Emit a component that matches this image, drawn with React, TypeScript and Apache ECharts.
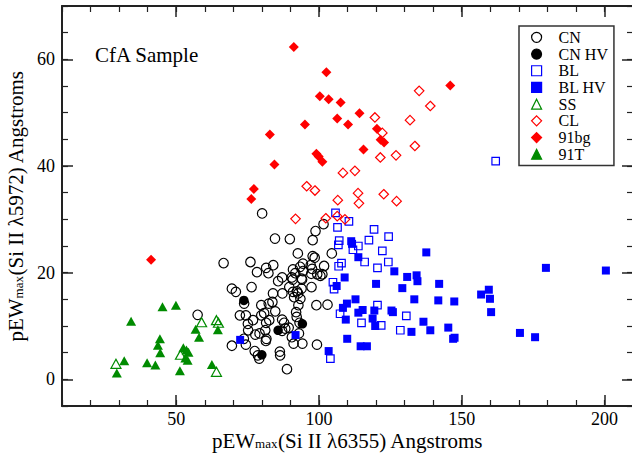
import React, { useEffect, useRef } from "react";
import * as echarts from "echarts";

// ---- data: [pEW(6355), pEW(5972)] ----
const CN: number[][] = [
  [80.1, 31.1], [84.6, 26.4], [89.8, 26.3], [97.8, 26.1], [98.8, 27.8], [101.6, 29.1],
  [66.6, 21.8], [76.0, 22.0], [81.5, 20.9], [82.3, 19.9], [78.3, 20.1], [84.0, 21.4],
  [92.6, 23.6], [97.8, 23.1], [98.5, 22.8], [104.5, 23.6], [93.4, 21.1], [94.4, 21.7],
  [97.1, 21.4], [101.8, 21.25], [90.9, 20.6], [90.5, 19.1], [87.1, 19.1], [85.7, 18.4],
  [93.9, 18.9], [97.3, 19.8], [99.4, 19.7], [100.5, 19.4], [101.2, 19.7], [97.4, 17.3],
  [89.6, 17.3], [90.9, 16.4], [92.7, 16.1], [93.9, 17.0], [87.2, 16.1], [83.9, 16.1],
  [91.3, 15.4], [93.5, 15.1], [76.4, 17.3], [69.5, 17.0], [70.9, 16.4], [73.8, 14.2],
  [79.8, 13.9], [82.4, 14.2], [83.7, 14.5], [92.8, 13.9], [99.1, 13.9], [103.0, 14.0],
  [92.0, 12.6], [84.7, 12.75], [80.8, 12.4], [79.8, 12.0], [72.3, 12.0], [74.4, 12.0],
  [57.5, 12.1], [75.1, 10.4], [76.9, 11.1], [81.5, 10.6], [82.6, 11.1], [87.1, 11.2],
  [87.8, 10.6], [92.2, 11.7], [93.2, 10.6], [75.2, 9.2], [77.7, 8.4], [81.2, 9.2],
  [81.6, 7.6], [81.4, 7.2], [88.2, 9.5], [89.4, 9.7], [87.1, 9.1], [79.2, 8.6],
  [90.5, 7.9], [93.0, 8.6], [73.7, 7.6], [69.5, 6.3], [74.4, 6.5], [77.5, 5.3],
  [78.6, 4.5], [79.1, 3.9], [86.3, 5.2], [86.4, 4.5], [91.1, 6.7], [94.2, 6.7],
  [99.3, 6.5], [88.8, 1.9], [91.7, 19.9], [94.4, 20.3], [97.6, 20.7], [90.8, 18.7],
  [94.1, 18.7], [92.3, 16.5],
];
const CN_HV: number[][] = [[73.7, 14.8], [85.7, 9.2], [94.2, 10.4], [80.0, 4.6]];
const BL: number[][] = [
  [161.9, 40.9], [105.8, 31.2], [106.5, 28.5], [110.5, 29.6], [119.3, 28.1], [124.4, 26.75],
  [107.1, 26.0], [106.8, 25.2], [111.9, 24.3], [113.8, 25.0], [117.5, 26.1], [122.2, 24.1],
  [124.3, 22.0], [116.0, 22.0], [107.9, 21.8], [106.9, 21.2], [120.5, 20.9], [104.9, 18.2],
  [105.3, 16.9], [107.4, 12.3], [120.5, 13.9], [114.9, 10.6], [121.8, 10.1], [128.5, 9.2],
  [130.6, 11.9], [104.0, 3.9],
];
const BL_HV: number[][] = [
  [72.4, 7.4], [91.8, 8.3], [103.4, 5.3], [106.2, 17.5], [109.0, 19.1], [111.3, 25.9],
  [111.6, 25.4], [113.8, 22.9], [112.8, 15.0], [109.8, 14.2], [108.4, 13.4], [113.8, 12.5],
  [115.3, 13.0], [109.4, 11.2], [119.4, 12.9], [118.8, 11.4], [119.7, 10.0], [120.0, 17.9],
  [126.4, 20.25], [130.9, 19.2], [134.2, 19.5], [134.5, 18.4], [137.6, 23.8], [129.2, 17.1],
  [125.4, 12.9], [125.9, 12.6], [133.4, 15.0], [142.1, 17.9], [141.8, 14.8], [147.4, 14.6],
  [136.6, 10.8], [139.0, 9.2], [132.4, 8.9], [145.3, 9.7], [147.0, 7.6], [147.5, 7.8],
  [109.9, 7.6], [114.6, 6.2], [116.8, 6.2], [156.8, 15.9], [159.5, 16.8], [159.9, 15.1],
  [160.3, 12.6], [170.4, 8.7], [175.7, 7.9], [179.5, 20.9], [200.5, 20.4],
];
const SS: number[][] = [[28.9, 2.9], [58.9, 10.7], [64.1, 11.1], [64.8, 10.6], [64.1, 1.4], [51.5, 4.6]];
const CL: number[][] = [
  [135.1, 54.1], [139.0, 51.25], [131.9, 48.6], [119.6, 49.1], [122.2, 46.2], [133.6, 43.75],
  [121.5, 41.6], [127.0, 42.0], [108.4, 38.7], [112.6, 39.1], [95.7, 36.2], [98.6, 35.4],
  [113.7, 34.9], [122.7, 34.7], [127.2, 33.4], [106.6, 33.6], [114.0, 33.0], [91.8, 30.1],
  [102.4, 30.2], [106.4, 30.6], [109.1, 30.0],
];
const BG91: number[][] = [
  [91.2, 62.3], [102.6, 57.6], [100.3, 53.1], [103.4, 52.5], [107.6, 51.9], [114.2, 49.9],
  [106.4, 48.9], [95.1, 47.8], [110.2, 47.8], [82.8, 45.9], [120.3, 47.0], [121.6, 44.9],
  [122.8, 44.4], [115.6, 43.1], [99.1, 42.3], [99.9, 41.8], [101.2, 40.8], [84.4, 40.3],
  [77.2, 35.7], [76.3, 33.8], [41.2, 22.4], [146.0, 55.1],
];
const T91: number[][] = [
  [45.2, 13.6], [49.9, 13.9], [34.2, 10.9], [31.8, 3.5], [29.2, 1.2], [39.8, 3.1],
  [42.7, 2.7], [44.3, 7.6], [43.6, 6.4], [44.4, 5.0], [51.3, 1.6], [52.5, 5.9],
  [53.6, 5.5], [54.3, 5.1], [53.2, 4.0], [54.0, 3.6], [56.8, 9.4], [58.0, 7.9],
  [64.6, 9.3], [62.5, 2.8],
];

const LEGEND_ORDER = ["CN", "CN HV", "BL", "BL HV", "SS", "CL", "91bg", "91T"];
const X_MAJOR = [50, 100, 150, 200];
const Y_MAJOR = [0, 20, 40, 60];

const FONT = '"Liberation Serif","Times New Roman",serif';
const FRAME = "#222";
const RED = "#ff0000";
const BLUE = "#0000ff";
const GREEN = "#008b00";
const CLEAR = "rgba(255,255,255,0)";

const rich = {
  m: { fontFamily: FONT, fontSize: 21, lineHeight: 20, verticalAlign: "top", color: "#000" },
  s: { fontFamily: FONT, fontSize: 13, lineHeight: 13, verticalAlign: "bottom", color: "#000", padding: [11, 0, 0, 0] },
};

function majorAxis(dim: "x" | "y", pos: string, min: number, max: number, values: number[], labels: boolean, extra: any = {}) {
  return {
    type: "value",
    position: pos,
    min,
    max,
    axisLine: { show: true, onZero: false, lineStyle: { color: FRAME, width: 2 } },
    axisTick: { show: true, inside: true, length: 11, customValues: values, lineStyle: { color: FRAME, width: 1.5 } },
    axisLabel: labels
      ? { show: true, customValues: values, margin: dim === "x" ? 4 : 7, fontSize: 18, lineHeight: 18, fontFamily: FONT, color: "#000" }
      : { show: false },
    splitLine: { show: false },
    ...extra,
  };
}
function minorAxis(pos: string, min: number, max: number, interval: number) {
  return {
    type: "value",
    position: pos,
    min,
    max,
    interval,
    axisLine: { show: false, onZero: false },
    axisTick: { show: true, inside: true, length: 6, lineStyle: { color: FRAME, width: 1.2 } },
    axisLabel: { show: false },
    splitLine: { show: false },
  };
}

function scatter(name: string, data: number[][], symbol: string, size: any, color: string, filled: boolean, z: number) {
  return {
    type: "scatter",
    name,
    data,
    xAxisIndex: 0,
    yAxisIndex: 0,
    symbol,
    symbolSize: size,
    z,
    itemStyle: filled
      ? { color, borderColor: color, borderWidth: 0, opacity: 1 }
      : { color: CLEAR, borderColor: color, borderWidth: 1.2, opacity: 1 },
    emphasis: { disabled: true },
  };
}

export default function App() {
  const ref = useRef<HTMLDivElement>(null);
  useEffect(() => {
    document.body.style.margin = "0";
    const chart = echarts.init(ref.current!, null, { renderer: "svg" });
    chart.setOption({
      animation: false,
      backgroundColor: "#fff",
      grid: { left: 62, top: 6, right: -1, bottom: 50, containLabel: false, outerBoundsMode: "none" },
      xAxis: [
        majorAxis("x", "bottom", 10, 210, X_MAJOR, true, {
          name: "{m|pEW}{s|max}{m|(Si II λ6355) Angstroms}",
          nameLocation: "middle",
          nameGap: 24,
          nameMoveOverlap: false,
          nameTextStyle: { rich },
        }),
        minorAxis("bottom", 10, 210, 10),
        majorAxis("x", "top", 10, 210, X_MAJOR, false),
        minorAxis("top", 10, 210, 10),
      ],
      yAxis: [
        majorAxis("y", "left", -5, 70, Y_MAJOR, true, {
          name: "{m|pEW}{s|max}{m|(Si II λ5972) Angstroms}",
          nameLocation: "middle",
          nameGap: 30,
          nameTextStyle: { rich },
        }),
        minorAxis("left", -5, 70, 5),
        majorAxis("y", "right", -5, 70, Y_MAJOR, false),
        minorAxis("right", -5, 70, 5),
      ],
      legend: {
        data: LEGEND_ORDER,
        orient: "vertical",
        left: 519,
        top: 26,
        itemWidth: 10,
        itemHeight: 10,
        itemGap: 0,
        padding: [3, 6, 3, 12],
        borderColor: "#333",
        borderWidth: 1.5,
        backgroundColor: "#fff",
        selectedMode: false,
        itemStyle: { borderWidth: 1.2 },
        textStyle: { fontFamily: FONT, fontSize: 16, color: "#000", lineHeight: 16.7, padding: [0, 0, 0, 12] },
      },
      graphic: [
        {
          type: "text",
          left: 95,
          top: 44,
          style: { text: "CfA Sample", fontFamily: FONT, fontSize: 21, fill: "#000" },
        },
      ],
      series: [
        scatter("CN", CN, "circle", 9.5, "#000", false, 2),
        scatter("BL", BL, "rect", 7.5, BLUE, false, 2),
        scatter("SS", SS, "triangle", [10, 9], GREEN, false, 2),
        scatter("CL", CL, "diamond", 9.5, RED, false, 2),
        scatter("CN HV", CN_HV, "circle", 9.5, "#000", true, 3),
        scatter("BL HV", BL_HV, "rect", 8, BLUE, true, 3),
        scatter("91bg", BG91, "diamond", 10, RED, true, 3),
        scatter("91T", T91, "triangle", [10, 9], GREEN, true, 3),
      ],
    });
    return () => chart.dispose();
  }, []);
  return <div ref={ref} style={{ position: "fixed", left: 0, top: 0, width: 632, height: 456 }} />;
}
